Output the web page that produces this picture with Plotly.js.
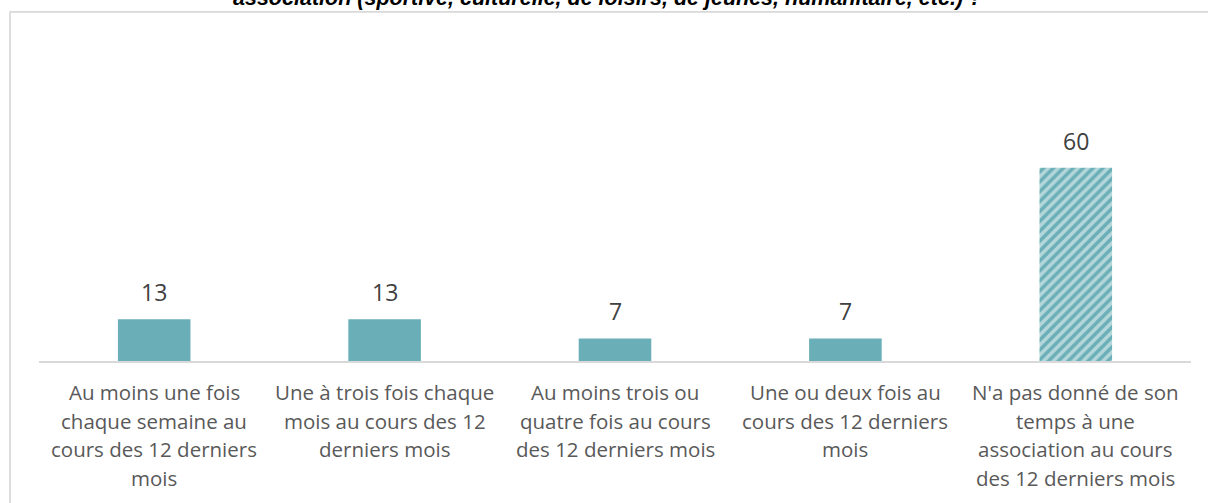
<!DOCTYPE html>
<html>
<head>
<meta charset="utf-8">
<script src="https://cdn.plot.ly/plotly-3.0.1.min.js"></script>
<style>html,body{margin:0;padding:0;background:#fff;}#chart{width:1208px;height:503px;}</style>
</head>
<body>
<div id="chart"></div>
<script>
const categories = ["c1", "c2", "c3", "c4", "c5"];
const labelLines = [
  ["Au moins une fois", "chaque semaine au", "cours des 12 derniers", "mois"],
  ["Une à trois fois chaque", "mois au cours des 12", "derniers mois"],
  ["Au moins trois ou", "quatre fois au cours", "des 12 derniers mois"],
  ["Une ou deux fois au", "cours des 12 derniers", "mois"],
  ["N'a pas donné de son", "temps à une", "association au cours", "des 12 derniers mois"]
];
const values = [13, 13, 7, 7, 60];
const hatched = [false, false, false, false, true];
const titleText = "association (sportive, culturelle, de loisirs, de jeunes, humanitaire, etc.) ?";

const teal = "#6AAFB7";
const W = 1208, H = 503;
const mL = 39, mR = 17, mT = 39, mB = 142;
const plotH = H - mT - mB;
const px2py = p => (H - mB - p) / plotH;
const px2px = p => (p - mL) / (W - mL - mR);

const trace = {
  type: "bar",
  x: categories,
  y: values,
  marker: {
    color: teal,
    line: {width: 0},
    pattern: {
      shape: hatched.map(h => h ? "/" : ""),
      fgcolor: "#ffffff",
      size: 7,
      solidity: 0.5,
      fillmode: "overlay"
    }
  },
  hoverinfo: "none"
};

const annotations = [];
values.forEach((v, i) => {
  annotations.push({
    x: categories[i], y: v, xref: "x", yref: "y",
    text: String(v), showarrow: false, yanchor: "bottom", yshift: 9,
    font: {family: "Open Sans", size: 23, color: "#404040"}
  });
});
labelLines.forEach((lines, i) => {
  lines.forEach((ln, j) => {
    annotations.push({
      x: categories[i], y: 0, xref: "x", yref: "y",
      text: ln, showarrow: false, yanchor: "top",
      yshift: -15 - j * 28.5,
      font: {family: "Open Sans", size: 20.5, color: "#595959"}
    });
  });
});
annotations.push({
  x: px2px(607.5), y: px2py(12), xref: "paper", yref: "paper",
  text: "<b><i>" + titleText + "</i></b>", showarrow: false,
  xanchor: "center", yanchor: "bottom",
  font: {family: "Liberation Sans", size: 21.5, color: "#000000"}
});

const layout = {
  width: W, height: H,
  margin: {l: mL, r: mR, t: mT, b: mB, pad: 0},
  paper_bgcolor: "#ffffff", plot_bgcolor: "#ffffff",
  showlegend: false,
  bargap: 0.685,
  xaxis: {
    type: "category", showline: true, linecolor: "#d9d9d9", linewidth: 1.5,
    showticklabels: false, ticks: "", showgrid: false, zeroline: false, fixedrange: true
  },
  yaxis: {
    range: [0, 100], visible: false, showgrid: false, zeroline: false, fixedrange: true
  },
  annotations: annotations,
  shapes: [
    {type: "line", xref: "paper", yref: "paper", x0: px2px(10), x1: px2px(10), y0: px2py(11.5), y1: px2py(560), line: {color: "#d9d9d9", width: 1.75}},
    {type: "line", xref: "paper", yref: "paper", x0: px2px(10), x1: px2px(1250), y0: px2py(11.75), y1: px2py(11.75), line: {color: "#d9d9d9", width: 1.75}}
  ]
};

Plotly.newPlot("chart", [trace], layout, {displayModeBar: false, staticPlot: true});
</script>
</body>
</html>
